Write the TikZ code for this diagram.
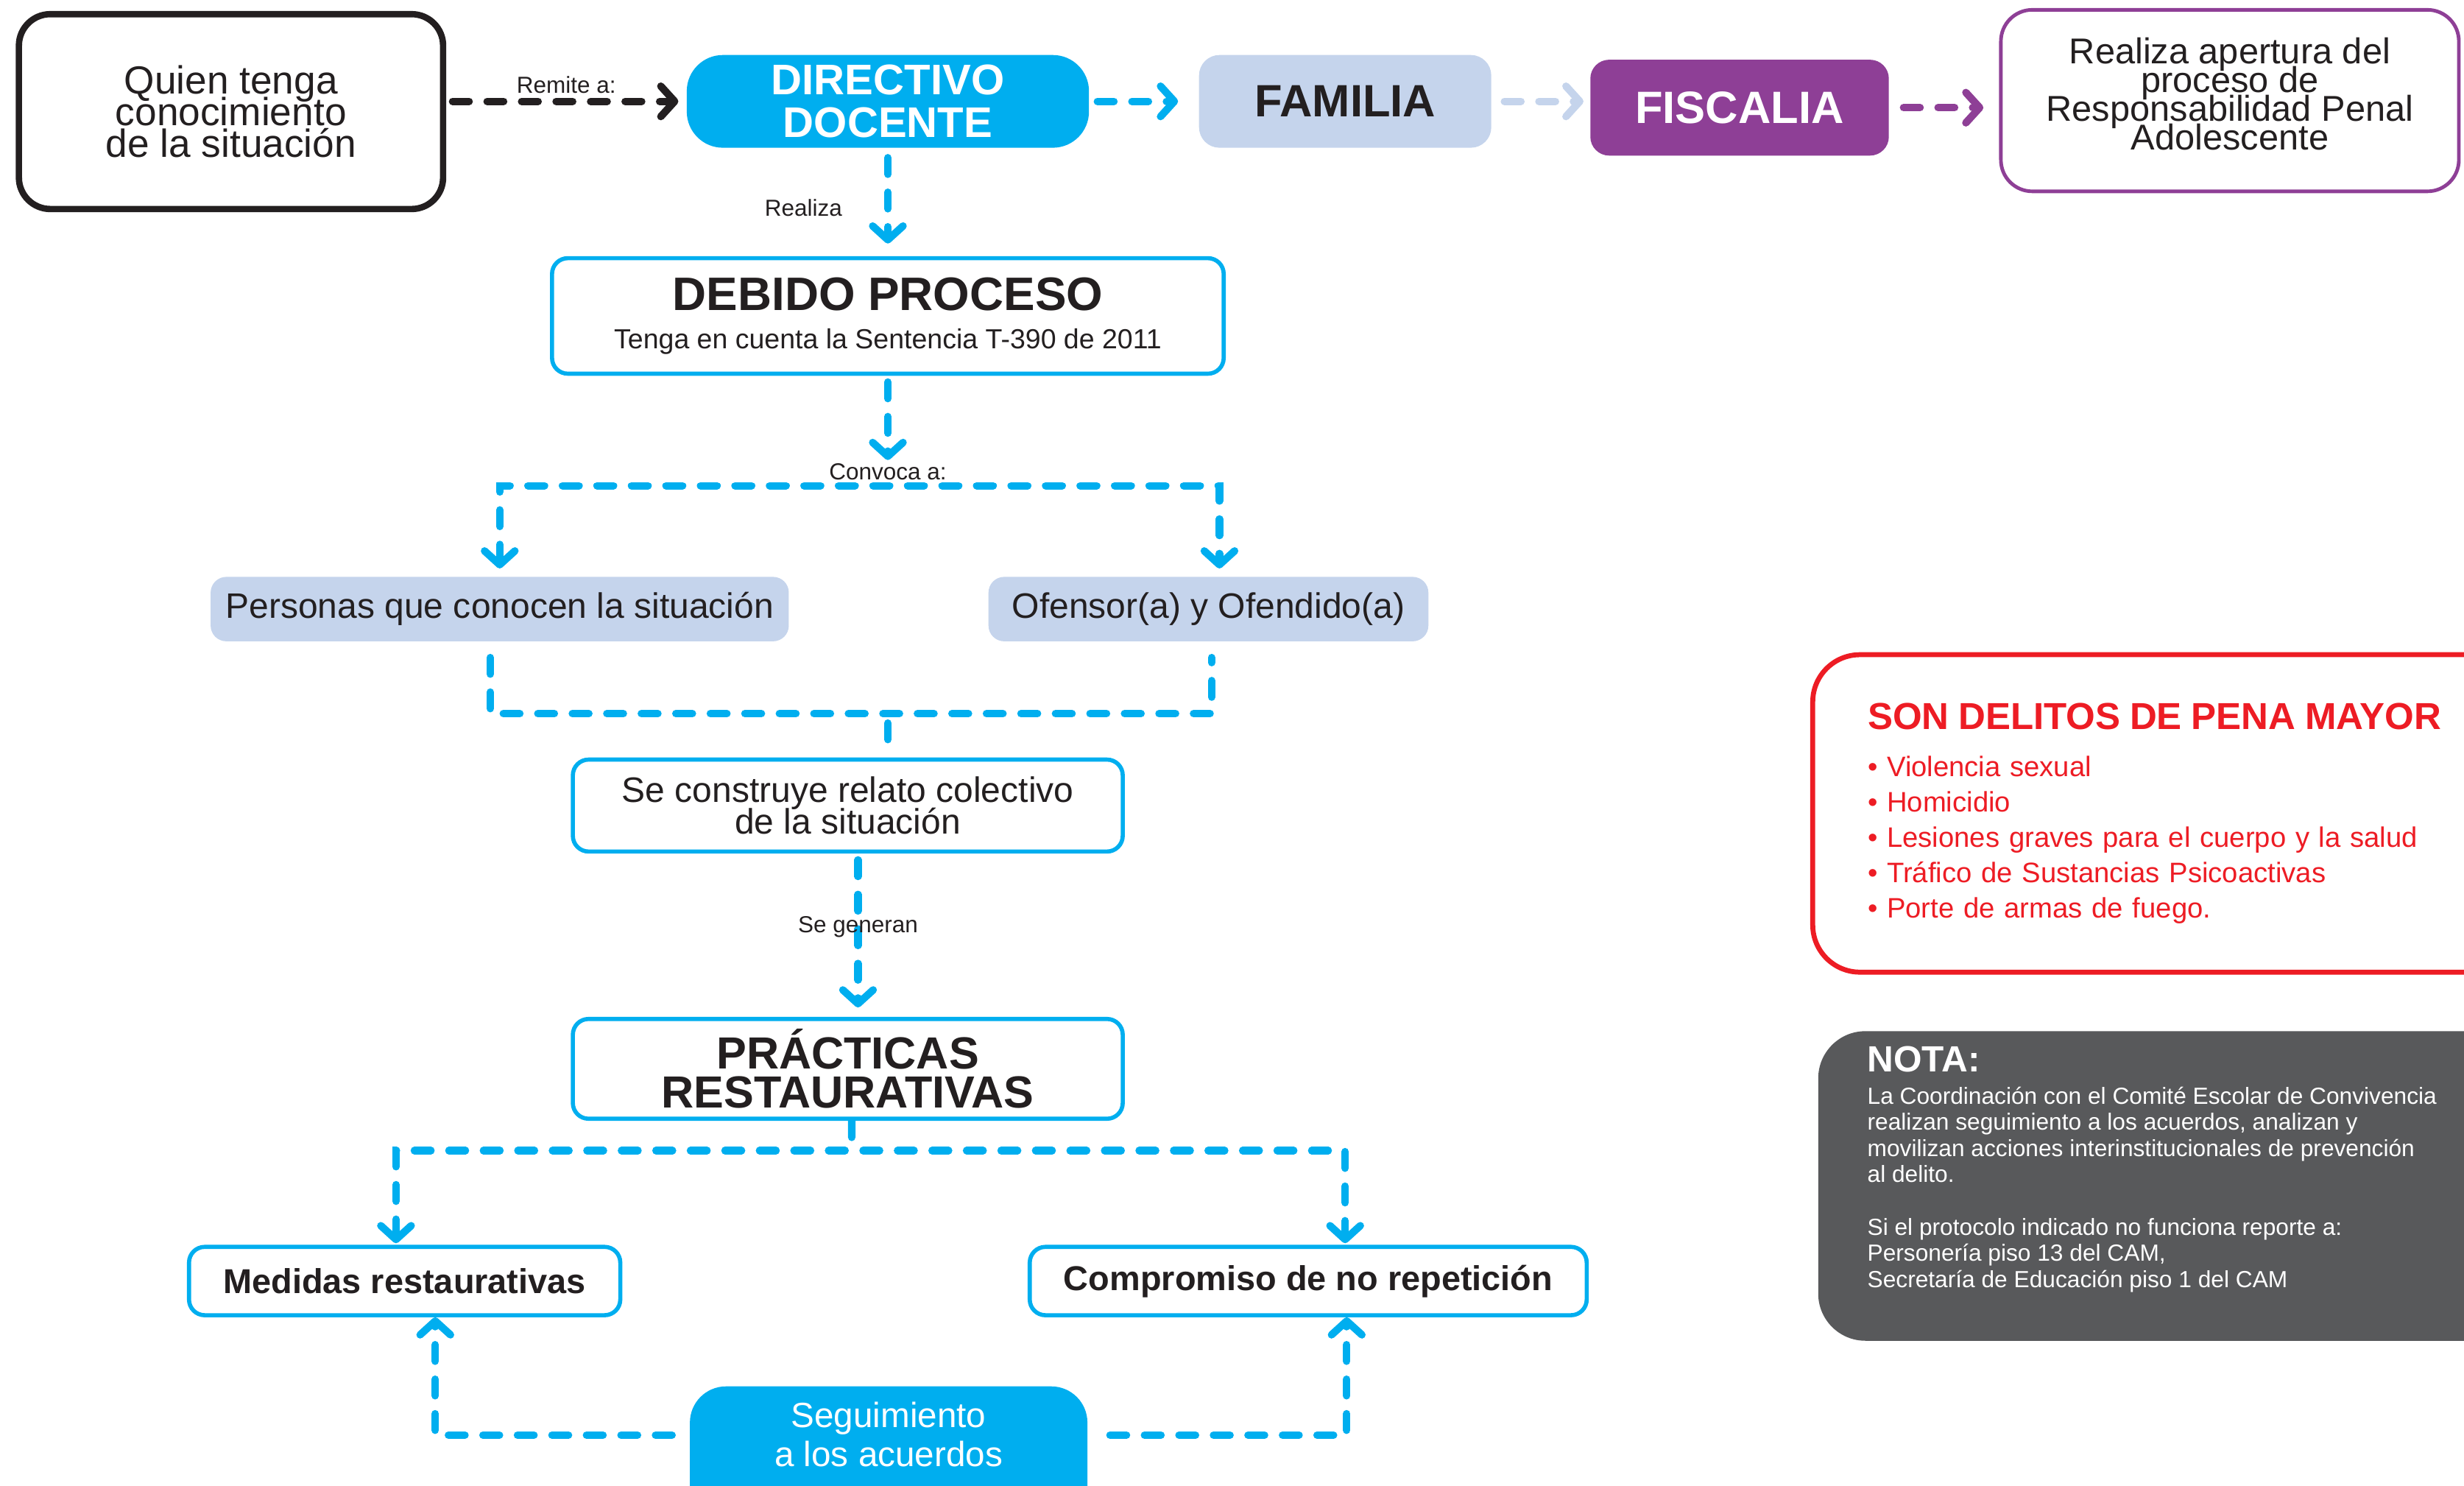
\documentclass[tikz,border=0pt]{standalone}
\usepackage{fontspec}
\setmainfont{Liberation Sans}
\usetikzlibrary{arrows.meta}
\definecolor{cian}{HTML}{00AEEF}
\definecolor{azulclaro}{HTML}{C5D4EC}
\definecolor{morado}{HTML}{8E3F96}
\definecolor{rojo}{HTML}{ED1C24}
\definecolor{grisnota}{HTML}{58595B}
\definecolor{negro}{HTML}{231F20}
\lineskiplimit=-30pt

\begin{document}
\begin{tikzpicture}[x=0.02cm, y=-0.02cm,
	flecha/.style={line width=2.7pt, line cap=round, dash pattern=on 6pt off 6.5pt},
	punta/.style={-{Straight Barb[round, length=5pt, width=11pt]}},
	dospuntas/.style={{Straight Barb[round, length=5pt, width=11pt]}-{Straight Barb[round, length=5pt, width=11pt]}},
	cajacian/.style={draw=cian, line width=1.5pt, rounded corners=0.2cm, fill=white, text=negro, align=center, inner sep=0pt},
	cajaclara/.style={fill=azulclaro, rounded corners=0.2cm, text=negro, inner sep=0pt},
	etiqueta/.style={font=\fontsize{8.4}{10}\selectfont, text=negro, inner sep=1pt}]
		\useasboundingbox (0,0) rectangle (1568,945);
		\clip (0,0) rectangle (1568,945);
		
		%top row
		\node[draw=negro, line width=2.3pt, rounded corners=0.4cm, minimum width=5.4cm, minimum height=2.48cm, align=center, text=negro, font=\fontsize{14.2}{11.5}\selectfont] (quien) at (147,71) {Quien tenga\\conocimiento\\de la situación};
		\node[fill=cian, rounded corners=0.46cm, minimum width=5.12cm, minimum height=1.18cm, align=center, text=white, font=\fontsize{15.5}{15.4}\selectfont\bfseries] (directivo) at (565,64.5) {DIRECTIVO\\DOCENTE};
		\node[fill=azulclaro, rounded corners=0.26cm, minimum width=3.72cm, minimum height=1.18cm, text=negro, font=\fontsize{16.4}{18}\selectfont\bfseries] (familia) at (856,64.5) {FAMILIA};
		\node[fill=morado, rounded corners=0.24cm, minimum width=3.8cm, minimum height=1.22cm, text=white, font=\fontsize{16.4}{18}\selectfont\bfseries] (fiscalia) at (1107,68.5) {FISCALIA};
		\node[draw=morado, line width=1.3pt, rounded corners=0.4cm, minimum width=5.83cm, minimum height=2.31cm, align=center, text=negro, font=\fontsize{13}{10.4}\selectfont] (apertura) at (1419,64) {Realiza apertura del\\proceso de\\Responsabilidad Penal\\Adolescente\\[-5.3pt]\mbox{}};
		
		%central column
		\node[cajacian, minimum width=8.55cm, minimum height=1.47cm] (debido) at (565,201) {{\fontsize{17}{20}\selectfont\bfseries DEBIDO PROCESO}\\[2pt]{\fontsize{10}{12}\selectfont Tenga en cuenta la Sentencia T-390 de 2011}};
		\node[etiqueta] (convoca) at (565,300) {Convoca a:};
		\node[cajaclara, minimum width=7.36cm, minimum height=0.82cm, font=\fontsize{12.8}{14}\selectfont] (personas) at (318,387.5) {Personas que conocen la situación};
		\node[cajaclara, minimum width=5.6cm, minimum height=0.82cm, font=\fontsize{12.8}{14}\selectfont] (ofensor) at (769,387.5) {Ofensor(a) y Ofendido(a)};
		\node[cajacian, minimum width=7.0cm, minimum height=1.17cm, font=\fontsize{12.8}{11.4}\selectfont] (relato) at (539.5,512.5) {Se construye relato colectivo\\de la situación};
		\node[cajacian, minimum width=7.0cm, minimum height=1.27cm, font=\fontsize{16.3}{14.2}\selectfont\bfseries] (practicas) at (539.5,680) {PRÁCTICAS\\RESTAURATIVAS};
		\node[cajacian, minimum width=5.49cm, minimum height=0.87cm, font=\fontsize{12.5}{14}\selectfont\bfseries] (medidas) at (257.5,815) {Medidas restaurativas};
		\node[cajacian, minimum width=7.09cm, minimum height=0.87cm, font=\fontsize{12.5}{14}\selectfont\bfseries] (compromiso) at (832.5,815) {Compromiso de no repetición};
		\node[fill=cian, rounded corners=0.46cm, minimum width=5.06cm, minimum height=1.72cm] (seguimiento) at (565.5,925) {};
		\node[align=center, text=white, font=\fontsize{12.7}{14.2}\selectfont] (seguimientotexto) at (565.5,912.5) {Seguimiento\\a los acuerdos};
		
		%side boxes
		\node[draw=rojo, line width=1.8pt, rounded corners=0.6cm, text width=7.9cm, inner xsep=0.7cm, minimum height=4.04cm, align=left, text=rojo, font=\fontsize{10.2}{12.8}\selectfont] (delitos) at (1386,517.5) {{\fontsize{13.6}{16}\selectfont\bfseries SON DELITOS DE PENA MAYOR}\\[4.2pt]•~Violencia sexual\\•~Homicidio\\•~Lesiones graves para el cuerpo y la salud\\•~Tráfico de Sustancias Psicoactivas\\•~Porte de armas de fuego.};
		\node[fill=grisnota, rounded corners=0.6cm, minimum width=8.86cm, minimum height=3.94cm] (nota) at (1378.5,754.5) {};
		\node[anchor=west, text=white, inner sep=0pt, font=\fontsize{13.2}{16}\selectfont\bfseries] (notatitulo) at (1188,674) {NOTA:};
		\node[anchor=north west, align=left, text=white, inner sep=0pt, font=\fontsize{8.45}{9.5}\selectfont] (notacuerpo) at (1188,691) {La Coordinación con el Comité Escolar de Convivencia\\realizan seguimiento a los acuerdos, analizan y\\movilizan acciones interinstitucionales de prevención\\al delito.\\[9.5pt]Si el protocolo indicado no funciona reporte a:\\Personería piso 13 del CAM,\\Secretaría de Educación piso 1 del CAM};
		
		%connectors
		\draw[flecha, punta, negro, shorten <=0.08cm, shorten >=0.1cm] (quien.east |- directivo.west) -- (directivo.west) node[etiqueta, midway, above=0.02cm] {Remite a:};
		\draw[flecha, punta, cian, shorten <=0.1cm, shorten >=0.26cm] (directivo.east) -- (directivo.east -| familia.west);
		\draw[flecha, punta, azulclaro, shorten <=0.16cm, shorten >=0.08cm] (familia.east) -- (familia.east -| fiscalia.west);
		\draw[flecha, punta, morado, shorten <=0.18cm, shorten >=0.2cm] (fiscalia.east) -- (fiscalia.east -| apertura.west);
		
		\draw[flecha, punta, cian, shorten <=0.12cm, shorten >=0.16cm] (directivo.south) -- (debido.north) node[etiqueta, pos=0.55, left=0.5cm] {Realiza};
		\draw[flecha, punta, cian, shorten <=0.08cm] (debido.south) -- (convoca.north);
		\coordinate (ramal1) at (565,309);
		\draw[flecha, dospuntas, cian, shorten <=0.1cm, shorten >=0.1cm] (personas.north) |- (ramal1) -| ([xshift=0.14cm]ofensor.north);
		\coordinate (ramal2) at (565,454);
		\draw[flecha, cian, shorten <=0.2cm, shorten >=0.2cm] ([xshift=-0.12cm]personas.south) |- (ramal2) -| ([xshift=0.04cm]ofensor.south);
		\draw[flecha, cian, shorten <=0.12cm, shorten >=0.2cm] (ramal2) -- (ramal2 |- relato.north);
		\draw[flecha, punta, cian, shorten <=0.08cm, shorten >=0.12cm] ([xshift=0.13cm]relato.south) -- ([xshift=0.13cm]practicas.north) node[etiqueta, pos=0.45] {Se generan};
		
		\coordinate (ramal3) at (542,732);
		\draw[flecha, cian] ([xshift=0.05cm]practicas.south) -- (ramal3);
		\draw[flecha, dospuntas, cian, shorten <=0.02cm, shorten >=0.02cm] ([xshift=-0.11cm]medidas.north) |- (ramal3) -| ([xshift=0.47cm]compromiso.north);
		\draw[flecha, punta, cian, shorten <=0.22cm] ([yshift=0.24cm]seguimiento.west) -| ([xshift=0.39cm]medidas.south);
		\draw[flecha, punta, cian, shorten <=0.28cm] ([yshift=0.24cm]seguimiento.east) -| ([xshift=0.49cm]compromiso.south);
\end{tikzpicture}
\end{document}
